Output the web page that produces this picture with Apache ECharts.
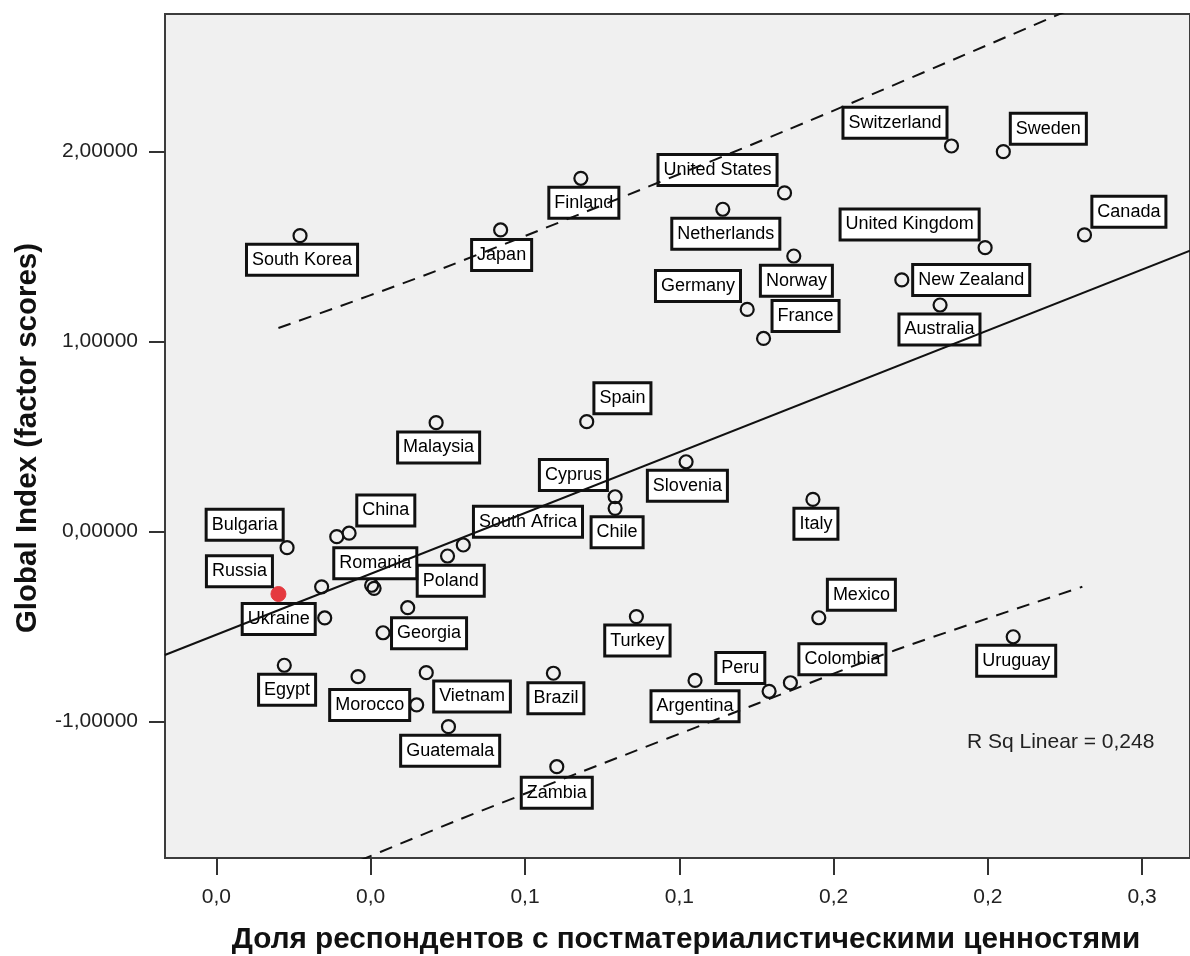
<!DOCTYPE html>
<html>
<head>
<meta charset="utf-8">
<title>Global Index vs postmaterialist values</title>
<script src="https://cdn.jsdelivr.net/npm/echarts@6/dist/echarts.min.js"></script>
<style>
  html, body { margin: 0; padding: 0; background: #ffffff; }
  #chart { width: 1190px; height: 956px; }
</style>
</head>
<body>
<div id="chart"></div>
<script>
// Countries ('' = unlabeled point)
const countries = [
  'South Korea', 'Japan', 'Finland', 'United States', 'Netherlands',
  'Switzerland', 'Sweden', 'Canada', 'United Kingdom', 'Norway',
  'Germany', 'France', 'New Zealand', 'Australia', 'Spain',
  'Malaysia', 'Cyprus', 'Chile', 'Slovenia', 'South Africa',
  'Poland', 'Romania', '', 'China', '',
  'Bulgaria', 'Russia', 'Ukraine', '', 'Georgia',
  '', 'Egypt', 'Morocco', '', 'Vietnam',
  'Guatemala', 'Brazil', 'Zambia', 'Turkey', 'Mexico',
  'Peru', 'Colombia', 'Argentina', 'Uruguay', 'Italy'
];

// Share of respondents with postmaterialist values
const postMaterialistShare = [
  0.0271, 0.0921, 0.1181, 0.1841, 0.1641,
  0.2382, 0.2550, 0.2813, 0.2491, 0.1871,
  0.1720, 0.1773, 0.2221, 0.2345, 0.1200,
  0.0712, 0.1292, 0.1292, 0.1522, 0.0800,
  0.0749, 0.0511, 0.0503, 0.0430, 0.0390,
  0.0229, 0.0201, 0.0351, 0.0341, 0.0540,
  0.0620, 0.0220, 0.0649, 0.0459, 0.0680,
  0.0752, 0.1092, 0.1103, 0.1361, 0.1952,
  0.1791, 0.1860, 0.1551, 0.2582, 0.1933
];

// Global Index (factor scores)
const globalIndex = [
  1.557, 1.587, 1.859, 1.782, 1.696,
  2.029, 1.999, 1.561, 1.494, 1.450,
  1.169, 1.016, 1.324, 1.192, 0.578,
  0.573, 0.183, 0.122, 0.367, -0.071,
  -0.129, -0.299, -0.283, -0.009, -0.027,
  -0.085, -0.329, -0.455, -0.291, -0.533,
  -0.401, -0.704, -0.913, -0.764, -0.743,
  -1.027, -0.746, -1.238, -0.448, -0.454,
  -0.841, -0.796, -0.784, -0.554, 0.169
];

const highlighted = 'Russia';

// Linear fit across the plot, and the 95% prediction band
const fitX = [-0.0167, 0.3155];
const fitY = [-0.650, 1.478];
const upperBandX = [0.0201, 0.0719, 0.1836, 0.2813];
const upperBandY = [1.071, 1.376, 2.104, 2.780];
const lowerBandX = [0.0201, 0.0784, 0.1170, 0.1756, 0.2201, 0.2806];
const lowerBandY = [-1.910, -1.518, -1.273, -0.904, -0.624, -0.291];

const rSquaredText = 'R Sq Linear = 0,248';

// Axis ticks and their printed labels
const xTickValues = [0, 0.05, 0.10, 0.15, 0.20, 0.25, 0.30];
const xTickLabels = ['0,0', '0,0', '0,1', '0,1', '0,2', '0,2', '0,3'];
const yTickValues = [-1, 0, 1, 2];
const yTickLabels = ['-1,00000', '0,00000', '1,00000', '2,00000'];

const xTitle = 'Доля респондентов с постматериалистическими ценностями';
const yTitle = 'Global Index (factor scores)';

// Label box placement around each marker, in pixels from the marker centre
const labelOffsets = {
  'South Korea': [2, 24], 'Japan': [1, 25], 'Finland': [3, 24.5],
  'United States': [-67, -23], 'Netherlands': [3, 24.4], 'Switzerland': [-56.5, -23.2],
  'Sweden': [45, -23], 'Canada': [44.4, -23.2], 'United Kingdom': [-75.5, -23.2],
  'Norway': [2.6, 24.8], 'Germany': [-49.2, -23.5], 'France': [42, -22.5],
  'New Zealand': [69.4, 0], 'Australia': [-0.6, 24.5], 'Spain': [35.7, -23.4],
  'Malaysia': [2.5, 24.8], 'Cyprus': [-41.7, -21.7], 'Chile': [2, 24],
  'Slovenia': [1.3, 24], 'South Africa': [64.7, -23.3], 'Poland': [3.2, 24.8],
  'Romania': [1.2, -25], 'China': [36.7, -22.8], 'Bulgaria': [-42.4, -23],
  'Russia': [-39, -22.7], 'Ukraine': [-46, 1], 'Georgia': [46, 0.6],
  'Egypt': [2.8, 24.5], 'Morocco': [-47, 0], 'Vietnam': [45.8, 23.8],
  'Guatemala': [1.7, 24], 'Brazil': [2.5, 25], 'Zambia': [0, 26],
  'Turkey': [1, 24], 'Mexico': [42.6, -23], 'Peru': [-28.8, -23.4],
  'Colombia': [52, -23.5], 'Argentina': [0, 25.8], 'Uruguay': [3, 24],
  'Italy': [3, 24.4]
};

const X_MIN = -0.016656, X_MAX = 0.31549;
const Y_MIN = -1.7184, Y_MAX = 2.7237;

function pairs(xs, ys) { return xs.map((x, i) => [x, ys[i]]); }
function tickText(values, labels, v) {
  const i = values.findIndex(t => Math.abs(t - v) < 1e-9);
  return i < 0 ? '' : labels[i];
}

const pointData = countries.map((name, i) => {
  const item = { name: name, value: [postMaterialistShare[i], globalIndex[i]] };
  if (name) {
    item.label = { show: true, offset: labelOffsets[name] || [0, 24] };
  }
  if (name === highlighted) {
    item.itemStyle = { color: '#e5393f', borderColor: '#e5393f', borderWidth: 1, opacity: 1 };
    item.symbolSize = 15;
  }
  return item;
});

const chart = echarts.init(document.getElementById('chart'), null, { renderer: 'canvas' });

const axisFont = { fontFamily: 'Liberation Sans, Arial, sans-serif', fontSize: 21, color: '#222' };

chart.setOption({
  animation: false,
  backgroundColor: '#ffffff',
  grid: {
    left: 165, top: 14, right: -6, bottom: 98,
    show: true, backgroundColor: '#f0f0f0', borderColor: '#3c3c3c', borderWidth: 2
  },
  xAxis: {
    type: 'value', min: X_MIN, max: X_MAX,
    splitLine: { show: false },
    axisLine: { show: true, onZero: false, lineStyle: { color: '#3c3c3c', width: 2 } },
    axisTick: { show: true, customValues: xTickValues, length: 17, lineStyle: { color: '#333', width: 2 } },
    axisLabel: Object.assign({
      customValues: xTickValues, margin: 29,
      formatter: v => tickText(xTickValues, xTickLabels, v)
    }, axisFont)
  },
  yAxis: {
    type: 'value', min: Y_MIN, max: Y_MAX,
    splitLine: { show: false },
    axisLine: { show: true, onZero: false, lineStyle: { color: '#3c3c3c', width: 2 } },
    axisTick: { show: true, customValues: yTickValues, length: 16, lineStyle: { color: '#333', width: 2 } },
    axisLabel: Object.assign({
      customValues: yTickValues, margin: 27,
      formatter: v => tickText(yTickValues, yTickLabels, v)
    }, axisFont)
  },
  series: [
    {
      type: 'scatter',
      z: 3,
      symbol: 'circle',
      symbolSize: 13,
      itemStyle: { color: 'rgba(0,0,0,0)', borderColor: '#111', borderWidth: 2.2, opacity: 1 },
      label: {
        show: false,
        position: 'inside',
        formatter: '{b}',
        fontFamily: 'Liberation Sans, Arial, sans-serif',
        fontSize: 18,
        lineHeight: 21,
        color: '#000',
        backgroundColor: '#ffffff',
        borderColor: '#111',
        borderWidth: 3,
        padding: [4, 4, 3, 4]
      },
      emphasis: { disabled: true },
      data: pointData
    },
    {
      type: 'line', z: 6, silent: true, showSymbol: false, symbol: 'none',
      lineStyle: { color: '#111', width: 2, opacity: 1 },
      data: pairs(fitX, fitY)
    },
    {
      type: 'line', z: 6, silent: true, showSymbol: false, symbol: 'none', smooth: 0.3,
      lineStyle: { color: '#111', width: 2, type: [13, 9], opacity: 1 },
      data: pairs(upperBandX, upperBandY)
    },
    {
      type: 'line', z: 6, silent: true, showSymbol: false, symbol: 'none', smooth: 0.3,
      lineStyle: { color: '#111', width: 2, type: [13, 9], opacity: 1 },
      data: pairs(lowerBandX, lowerBandY)
    }
  ],
  graphic: [
    {
      type: 'text', left: 967, top: 732, z: 10,
      style: { text: rSquaredText, fontFamily: 'Liberation Sans, Arial, sans-serif', fontSize: 21, fill: '#222' }
    },
    {
      type: 'text', x: 686, y: 940, z: 10,
      style: { text: xTitle, fontFamily: 'Liberation Sans, Arial, sans-serif', fontSize: 29.7, fontWeight: 'bold', fill: '#111', align: 'center', verticalAlign: 'middle' }
    },
    {
      type: 'text', x: 28, y: 438, rotation: Math.PI / 2, z: 10,
      style: { text: yTitle, fontFamily: 'Liberation Sans, Arial, sans-serif', fontSize: 29.5, fontWeight: 'bold', fill: '#111', align: 'center', verticalAlign: 'middle' }
    }
  ]
});
</script>
</body>
</html>
